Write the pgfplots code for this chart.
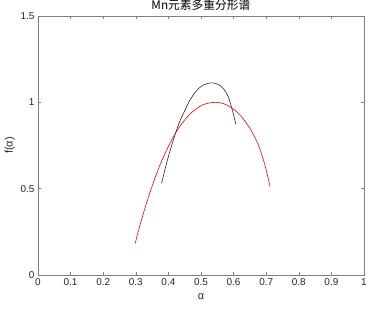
\documentclass[border=0pt]{standalone}
\usepackage{pgfplots}
\pgfplotsset{compat=1.18}
\usetikzlibrary{calc}
\usepackage{fontspec}
\setmainfont{Liberation Sans}
\newfontfamily\cjk{Noto Sans CJK SC}
\definecolor{axgray}{gray}{0.15}
\definecolor{lgray}{gray}{0.5}
\begin{document}
\begin{tikzpicture}
\begin{axis}[
  scale only axis, width=326bp, height=259bp,
  xmin=0, xmax=1, ymin=0, ymax=1.5,
  xtick={0,0.1,...,1}, ytick={0,0.5,1,1.5},
  xticklabels={0,0.1,0.2,0.3,0.4,0.5,0.6,0.7,0.8,0.9,1},
  yticklabels={0,0.5,1,1.5},
  tick align=inside, major tick length=3bp,
  axis line style={lgray, line width=0.5bp},
  every tick/.style={lgray, line width=0.5bp},
  ticklabel style={font=\fontsize{10}{12}\selectfont, text=axgray},
  /pgf/number format/assume math mode=true,
  xlabel={α}, ylabel={f(α)},
  label style={font=\fontsize{11}{13}\selectfont, text=axgray},
  xlabel style={yshift=-1bp},
  ylabel style={yshift=-1bp},
  title={\cjk Mn元素多重分形谱},
  title style={font=\fontsize{11.8}{13}\selectfont, text=black, yshift=-4.5bp},
  clip=false,
]
\coordinate (SW) at (rel axis cs:0,0);
\coordinate (NE) at (rel axis cs:1,1);
\addplot[black!85, line width=0.6bp, smooth, tension=0.5] coordinates {
 (0.379,0.531) (0.388,0.600) (0.400,0.686) (0.420,0.811) (0.437,0.899)
 (0.451,0.955) (0.466,1.013) (0.487,1.069) (0.507,1.100) (0.532,1.113)
 (0.552,1.104) (0.568,1.081) (0.583,1.035) (0.594,0.969) (0.601,0.920) (0.607,0.872)
};
\addplot[red, line width=0.6bp, smooth, tension=0.5] coordinates {
 (0.298,0.183) (0.313,0.291) (0.333,0.417) (0.354,0.536) (0.374,0.636)
 (0.395,0.726) (0.417,0.806) (0.436,0.864) (0.466,0.932) (0.497,0.977)
 (0.520,0.994) (0.546,1.000) (0.570,0.992) (0.594,0.969) (0.620,0.926)
 (0.650,0.849) (0.676,0.753) (0.696,0.637) (0.712,0.511)
};
\end{axis}
\pgfresetboundingbox
\path ($(SW)+(-38bp,-35bp)$) rectangle ($(NE)+(6bp,16bp)$);
\end{tikzpicture}
\end{document}
